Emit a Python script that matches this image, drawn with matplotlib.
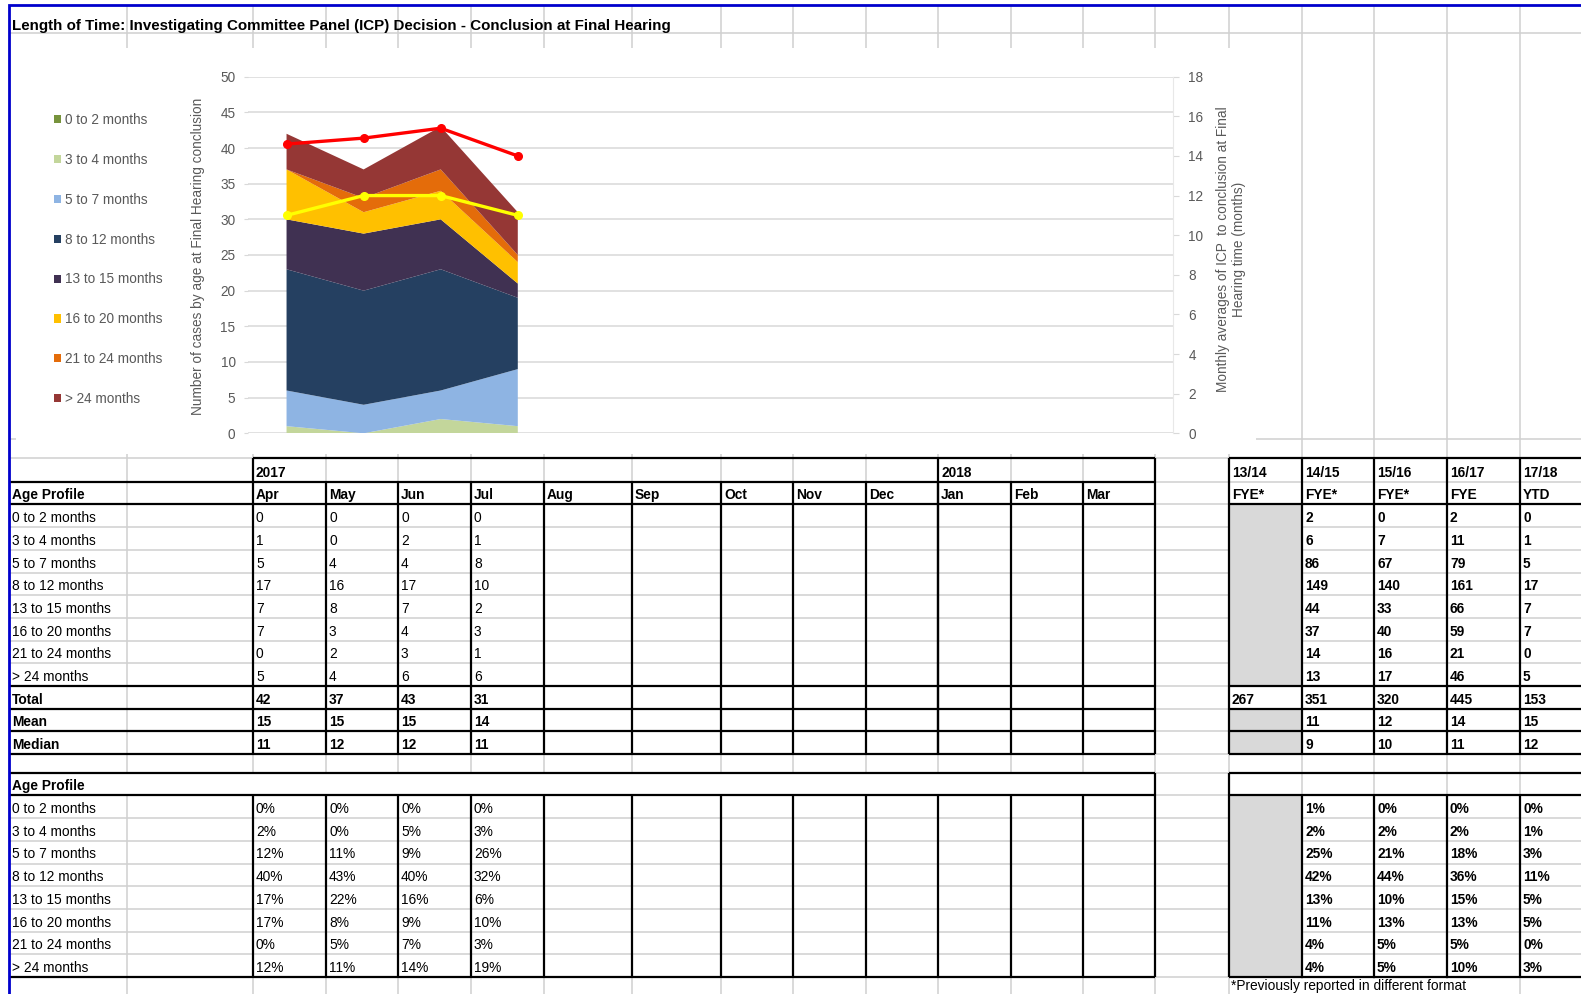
import numpy as np
import matplotlib.pyplot as plt
from matplotlib.patches import Rectangle

# ---- values ----
age_bands = ['0 to 2 months', '3 to 4 months', '5 to 7 months', '8 to 12 months',
             '13 to 15 months', '16 to 20 months', '21 to 24 months', '> 24 months']
band_colours = ['#77933C', '#C3D69B', '#8EB4E3', '#254061',
                '#403152', '#FFC000', '#E46C0A', '#953735']
months = ['Apr', 'May', 'Jun', 'Jul', 'Aug', 'Sep', 'Oct', 'Nov', 'Dec', 'Jan', 'Feb', 'Mar']
years = ['2017', '2018']

# monthly counts Apr..Jul per age band
counts_0_2 = [0, 0, 0, 0]
counts_3_4 = [1, 0, 2, 1]
counts_5_7 = [5, 4, 4, 8]
counts_8_12 = [17, 16, 17, 10]
counts_13_15 = [7, 8, 7, 2]
counts_16_20 = [7, 3, 4, 3]
counts_21_24 = [0, 2, 3, 1]
counts_over_24 = [5, 4, 6, 6]
month_total = [42, 37, 43, 31]
month_mean = [15, 15, 15, 14]
month_median = [11, 12, 12, 11]

# averages as drawn on the secondary axis (unrounded)
mean_line = [14.6, 14.9, 15.4, 14.0]
median_line = [11.0, 12.0, 12.0, 11.0]

# percentage table, one list per month
pct_apr = ['0%', '2%', '12%', '40%', '17%', '17%', '0%', '12%']
pct_may = ['0%', '0%', '11%', '43%', '22%', '8%', '5%', '11%']
pct_jun = ['0%', '5%', '9%', '40%', '16%', '9%', '7%', '14%']
pct_jul = ['0%', '3%', '26%', '32%', '6%', '10%', '3%', '19%']

# financial year summary
fy_labels = ['13/14', '14/15', '15/16', '16/17', '17/18']
fy_kinds = ['FYE*', 'FYE*', 'FYE*', 'FYE', 'YTD']
fy_1415 = [2, 6, 86, 149, 44, 37, 14, 13]
fy_1516 = [0, 7, 67, 140, 33, 40, 16, 17]
fy_1617 = [2, 11, 79, 161, 66, 59, 21, 46]
fy_1718 = [0, 1, 5, 17, 7, 7, 0, 5]
fy_total = [267, 351, 320, 445, 153]
fy_mean = [None, 11, 12, 14, 15]
fy_median = [None, 9, 10, 11, 12]
fy_pct_1415 = ['1%', '2%', '25%', '42%', '13%', '11%', '4%', '4%']
fy_pct_1516 = ['0%', '2%', '21%', '44%', '10%', '13%', '5%', '5%']
fy_pct_1617 = ['0%', '2%', '18%', '36%', '15%', '13%', '5%', '10%']
fy_pct_1718 = ['0%', '1%', '3%', '11%', '5%', '5%', '0%', '3%']

title = ('Length of Time: Investigating Committee Panel (ICP) Decision - '
         'Conclusion at Final Hearing')

# ---- sheet geometry (pixels) ----
W, H = 1581, 994
col_x = [9, 127, 253, 326, 398, 471, 544, 632, 721, 793, 866, 938, 1011,
         1083, 1155, 1229, 1302, 1374, 1447, 1520, 1593]
rows_top = [458, 481.7, 504.4, 527.1, 549.8, 572.5, 595.2, 617.9, 640.6,
            663.3, 686.0, 708.7, 731.4, 754.1]
rows_low = [772.7, 795.4, 818.1, 840.8, 863.5, 886.2, 908.9, 931.6, 954.3, 977.0]
GRID = '#D0D0D0'
GREYFILL = '#D9D9D9'
AXTXT = '#595959'
FS = 9.9      # sheet cells
CFS = 9.8     # chart texts

plt.rcParams['font.family'] = ['Liberation Sans', 'DejaVu Sans']
fig = plt.figure(figsize=(W / 100, H / 100), dpi=100)
bg = fig.add_axes([0, 0, 1, 1])
bg.set_xlim(0, W)
bg.set_ylim(H, 0)
bg.axis('off')

# light spreadsheet gridlines
bg.vlines(col_x[1:], 4.7, H, color=GRID, lw=1.1, zorder=1)
bg.hlines([33, 439] + rows_top + rows_low, 9, W, color=GRID, lw=1.1, zorder=1)

# the chart object and other white / grey cells hide the grid
bg.add_patch(Rectangle((16, 48), 1240, 406, fc='white', ec='none', zorder=2))
bg.add_patch(Rectangle((10, rows_low[0]), 1145, rows_low[1] - rows_low[0],
                       fc='white', ec='none', zorder=2))
bg.add_patch(Rectangle((1230, 978.5), 289, 20, fc='white', ec='none', zorder=2))
for y0, y1 in [(rows_top[2], rows_top[10]), (rows_top[11], rows_top[13]),
               (rows_low[1], rows_low[9])]:
    bg.add_patch(Rectangle((col_x[15], y0), col_x[16] - col_x[15], y1 - y0,
                           fc=GREYFILL, ec='none', zorder=2))

# bold borders
BLW = 1.6
left_x0, left_x1 = col_x[0], col_x[14]
bg.hlines(rows_top[0], col_x[2], left_x1, color='black', lw=BLW, zorder=3)
bg.hlines([rows_top[1], rows_top[2], rows_top[10], rows_top[11], rows_top[12],
           rows_top[13]], left_x0, left_x1, color='black', lw=BLW, zorder=3)
bg.vlines([col_x[2], col_x[11], col_x[14]], rows_top[0], rows_top[13],
          color='black', lw=BLW, zorder=3)
bg.vlines(col_x[3:14], rows_top[1], rows_top[13], color='black', lw=BLW, zorder=3)
bg.hlines([rows_top[0], rows_top[2], rows_top[10], rows_top[11], rows_top[12],
           rows_top[13]], col_x[15], W, color='black', lw=BLW, zorder=3)
bg.vlines(col_x[15:20], rows_top[0], rows_top[13], color='black', lw=BLW, zorder=3)
bg.hlines([rows_low[0], rows_low[1], rows_low[9]], left_x0, left_x1,
          color='black', lw=BLW, zorder=3)
bg.vlines(col_x[14], rows_low[0], rows_low[9], color='black', lw=BLW, zorder=3)
bg.vlines(col_x[2:14], rows_low[1], rows_low[9], color='black', lw=BLW, zorder=3)
bg.hlines([rows_low[0], rows_low[1], rows_low[9]], col_x[15], W,
          color='black', lw=BLW, zorder=3)
bg.vlines(col_x[15], rows_low[0], rows_low[9], color='black', lw=BLW, zorder=3)
bg.vlines(col_x[16:20], rows_low[1], rows_low[9], color='black', lw=BLW, zorder=3)

# blue selection border
bg.plot([9, 9, W], [H, 4.7, 4.7], color='#0000CC', lw=2, zorder=5,
        solid_joinstyle='miter')


def put(x, y_bottom, s, bold=False):
    bg.text(x + 3, y_bottom - 5, s, fontsize=FS, va='baseline', ha='left',
            fontweight='bold' if bold else 'normal', color='black', zorder=4)


bg.text(12, 30, title, fontsize=10.9, fontweight='bold', va='baseline',
        family=['Liberation Sans Narrow', 'Liberation Sans'], zorder=4)

# upper table
put(col_x[2], rows_top[1], years[0], True)
put(col_x[11], rows_top[1], years[1], True)
put(col_x[0], rows_top[2], 'Age Profile', True)
for j, m in enumerate(months):
    put(col_x[2 + j], rows_top[2], m, True)
band_counts = [counts_0_2, counts_3_4, counts_5_7, counts_8_12,
               counts_13_15, counts_16_20, counts_21_24, counts_over_24]
for i, band in enumerate(age_bands):
    yb = rows_top[3 + i]
    put(col_x[0], yb, band)
    for j, v in enumerate(band_counts[i]):
        put(col_x[2 + j], yb, str(v))
for k, (name, vals) in enumerate([('Total', month_total), ('Mean', month_mean),
                                  ('Median', month_median)]):
    yb = rows_top[11 + k]
    put(col_x[0], yb, name, True)
    for j, v in enumerate(vals):
        put(col_x[2 + j], yb, str(v), True)

# financial year table
fy_cols = [None, fy_1415, fy_1516, fy_1617, fy_1718]
for j in range(5):
    x = col_x[15 + j]
    put(x, rows_top[1], fy_labels[j], True)
    put(x, rows_top[2], fy_kinds[j], True)
    if fy_cols[j] is not None:
        for i, v in enumerate(fy_cols[j]):
            put(x, rows_top[3 + i], str(v), True)
    put(x, rows_top[11], str(fy_total[j]), True)
    if fy_mean[j] is not None:
        put(x, rows_top[12], str(fy_mean[j]), True)
        put(x, rows_top[13], str(fy_median[j]), True)

# percentage tables
put(col_x[0], rows_low[1], 'Age Profile', True)
month_pcts = [pct_apr, pct_may, pct_jun, pct_jul]
fy_pcts = [None, fy_pct_1415, fy_pct_1516, fy_pct_1617, fy_pct_1718]
for i, band in enumerate(age_bands):
    yb = rows_low[2 + i]
    put(col_x[0], yb, band)
    for j, col in enumerate(month_pcts):
        put(col_x[2 + j], yb, col[i])
    for j, col in enumerate(fy_pcts):
        if col is not None:
            put(col_x[15 + j], yb, col[i], True)
bg.text(col_x[15] + 2, 990, '*Previously reported in different format',
        fontsize=FS, va='baseline', zorder=4)

# ---- the chart ----
px0, px1, py0, py1 = 248, 1173, 76.7, 433.3
ax = fig.add_axes([px0 / W, 1 - py1 / H, (px1 - px0) / W, (py1 - py0) / H])
ax.patch.set_alpha(0)
x = np.arange(len(month_total))
ax.stackplot(x, band_counts, colors=band_colours, labels=age_bands, linewidth=0)
ax.set_xlim(-0.5, len(months) - 0.5)
ax.set_ylim(0, 50)
ax.set_yticks(range(0, 51, 5))
ax.set_xticks([])
ax.yaxis.grid(True, color='#D9D9D9', lw=1.1)
ax.set_axisbelow(True)
for s in ax.spines.values():
    s.set_visible(False)
ax.tick_params(axis='y', colors=AXTXT, labelsize=CFS, length=3, pad=6,
               color='#D9D9D9')

ax2 = ax.twinx()
ax2.set_ylim(0, 18)
ax2.set_yticks(range(0, 19, 2))
ax2.plot(x, mean_line, color='#FF0000', lw=2.4, marker='o', ms=5.5)
ax2.plot(x, median_line, color='#FFFF00', lw=2.4, marker='o', ms=5.5)
for name, s in ax2.spines.items():
    s.set_visible(name == 'right')
ax2.spines['right'].set_color('#E8E8E8')
ax2.tick_params(axis='y', colors=AXTXT, labelsize=CFS, length=4, pad=7,
                color='#D9D9D9')

bg.text(198, 256, 'Number of cases by age at Final Hearing conclusion',
        rotation=90, ha='center', va='center', fontsize=CFS, color=AXTXT, zorder=4)
bg.text(1231, 249, 'Monthly averages of ICP  to conclusion at Final\n'
        'Hearing time (months)', rotation=90, ha='center', va='center',
        multialignment='center', fontsize=CFS, color=AXTXT, zorder=4)

handles, labels = ax.get_legend_handles_labels()
fig.legend(handles, labels, loc='upper left',
           bbox_to_anchor=(54 / W, 1 - 113 / H), frameon=False, fontsize=CFS,
           labelcolor=AXTXT, handlelength=0.55, handleheight=0.55,
           handletextpad=0.25, labelspacing=1.9, borderpad=0, borderaxespad=0)

fig.savefig('out.png', dpi=100)
